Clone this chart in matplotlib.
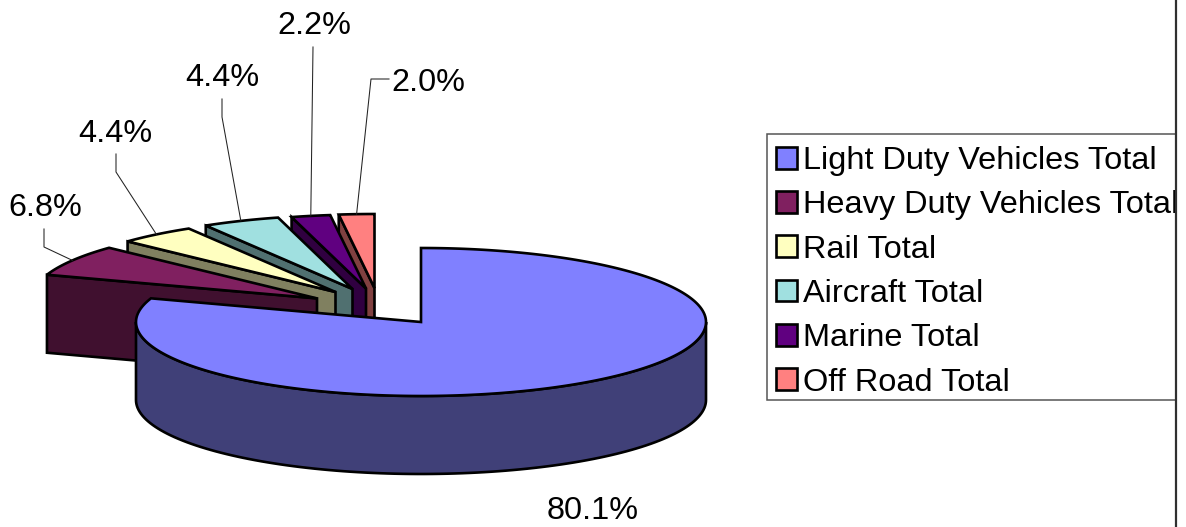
import numpy as np
import matplotlib
matplotlib.use("Agg")
import matplotlib.pyplot as plt
from matplotlib.patches import Polygon, Patch, Rectangle

plt.rcParams['font.family'] = ['Liberation Sans', 'DejaVu Sans']

categories = ["Light Duty Vehicles Total", "Heavy Duty Vehicles Total", "Rail Total",
              "Aircraft Total", "Marine Total", "Off Road Total"]
values = [80.1, 6.8, 4.4, 4.4, 2.2, 2.0]
labels = ["80.1%", "6.8%", "4.4%", "4.4%", "2.2%", "2.0%"]
top_colors = ["#8080FF", "#802060", "#FFFFC0", "#A0E0E0", "#600080", "#FF8080"]
side_colors = ["#404078", "#40102F", "#808060", "#507070", "#300040", "#804040"]

# Pie geometry in pixels: radii, depth, and the apex of each exploded slice
RX, RY, DEPTH = 285, 74, 78
apex_x = [421, 317, 335.5, 352.5, 366, 374.5]
apex_y = [322, 298.4, 292, 289, 288.5, 288]
label_xy = [(593, 511), (45, 208), (115, 134), (222, 78), (314, 26), (428, 83)]
# Leader polylines start at the label and finish on the slice's arc midpoint
leader_start = [None, [(44, 229), (44, 247)], [(116, 154), (116, 172)],
                [(222, 99), (222, 117)], [(313, 47)], [(389, 79), (371, 79)]]

LW = 1.9
fig = plt.figure(figsize=(11.86, 5.27), dpi=100)
ax = fig.add_axes([0, 0, 1, 1])
ax.set_xlim(0, 1186)
ax.set_ylim(527, 0)
ax.axis("off")

fractions = np.array(values) / sum(values)
ends = np.cumsum(fractions) * 2 * np.pi
starts = np.concatenate(([0], ends[:-1]))


def arc(cx, cy, t0, t1, n=120):
    t = np.linspace(t0, t1, n)
    return np.column_stack((cx + RX * np.sin(t), cy - RY * np.cos(t)))


def poly(points, color, z):
    ax.add_patch(Polygon(points, closed=True, facecolor=color, edgecolor="black",
                         linewidth=LW, joinstyle="miter", zorder=z))


# Painter's order: the slice nearest the back first, the big slice last
for i in range(len(values) - 1, 0, -1):
    cx, cy = apex_x[i], apex_y[i]
    tip = arc(cx, cy, starts[i], starts[i], 1)[0]
    poly([(cx, cy), tip, (tip[0], tip[1] + DEPTH), (cx, cy + DEPTH)], side_colors[i], 10 - i + 2)
    top = np.vstack(([cx, cy], arc(cx, cy, starts[i], ends[i])))
    poly(top, top_colors[i], 10 - i + 2)

cx, cy = apex_x[0], apex_y[0]
front = arc(cx, cy, np.pi / 2, 3 * np.pi / 2)
wall = np.vstack((front, (front + [0, DEPTH])[::-1]))
poly(wall, side_colors[0], 20)
poly(np.vstack(([cx, cy], arc(cx, cy, starts[0], ends[0], 300))), top_colors[0], 21)

# Percent labels and leader lines
for i, text in enumerate(labels):
    ax.text(*label_xy[i], text, fontsize=23.3, color="black", ha="center", va="center", zorder=40)
    if leader_start[i]:
        mid = (starts[i] + ends[i]) / 2
        end = arc(apex_x[i], apex_y[i], mid, mid, 1)[0]
        pts = np.vstack((leader_start[i], end))
        ax.plot(pts[:, 0], pts[:, 1], color="#222222", lw=0.75, zorder=39)

# Legend: entries from the library, box drawn to the reference's extent
ax.add_patch(Rectangle((767, 134), 412, 266, facecolor="white", edgecolor="#555555",
                       linewidth=1.1, zorder=29))
handles = [Patch(facecolor=c, edgecolor="black", linewidth=LW) for c in top_colors]
leg = ax.legend(handles, categories, loc="upper left", bbox_to_anchor=(767 / 1186, 1 - 137 / 527),
                fontsize=23.4, frameon=False, borderpad=0.28, borderaxespad=0, labelspacing=0.44,
                handlelength=0.65, handleheight=0.65, handletextpad=0.19)
leg.set_zorder(30)

# Right-hand frame rule; the legend box stops at it
ax.add_patch(Rectangle((1176, 0), 10, 527, facecolor="white", edgecolor="none", zorder=49))
ax.plot([1176, 1176], [0, 527], color="#303030", lw=1.6, zorder=50, clip_on=False)

fig.savefig("out.png", dpi=100)
